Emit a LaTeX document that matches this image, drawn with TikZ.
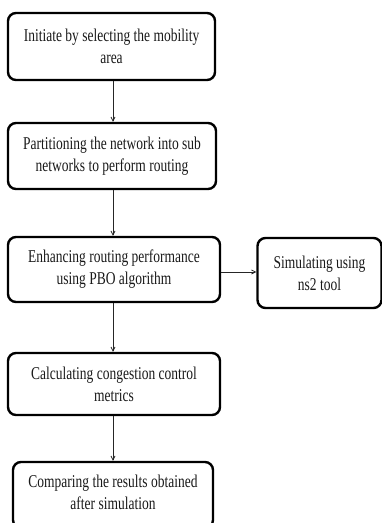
\documentclass[tikz,border=0pt]{standalone}
\usepackage{fontspec}
\setmainfont{Liberation Serif}[FakeStretch=0.75]
\usetikzlibrary{arrows.meta}
\begin{document}
\begin{tikzpicture}[x=1pt,y=-1pt,
  steptext/.style={align=center,font=\fontsize{18pt}{22pt}\selectfont,text=black!90,inner sep=0pt},
  stepbox/.style={steptext,draw=black,line width=2.4pt,rounded corners=8pt},
  arr/.style={draw=black!85,line width=0.8pt,-{Straight Barb[length=4pt,width=4pt]}}]
\useasboundingbox (0,0) rectangle (382,523);
\clip (0,0) rectangle (382,523);
\node[stepbox,minimum width=207pt,minimum height=67pt] (b1) at (111.5,46.5) {Initiate by selecting the mobility\\area};
\node[stepbox,minimum width=208pt,minimum height=66pt] (b2) at (112,156) {Partitioning the network into sub\\networks to perform routing};
\node[stepbox,minimum width=212pt,minimum height=65pt] (b3) at (114,269.5) {Enhancing routing performance\\using PBO algorithm};
\node[stepbox,minimum width=124pt,minimum height=70pt] (sim) at (319.5,273) {Simulating using\\ns2 tool};
\node[stepbox,minimum width=212pt,minimum height=62pt] (b4) at (114,384) {Calculating congestion control\\metrics};
\node[stepbox,minimum width=200pt,minimum height=66pt] (b5) at (113,495) {};
\node[steptext] (b5t) at (113,492.5) {Comparing the results obtained\\after simulation};
\coordinate (ax) at (113,0);
\coordinate (ay) at (0,272);
\draw[arr] (b1.south -| ax) -- (b2.north -| ax);
\draw[arr] (b2.south -| ax) -- (b3.north -| ax);
\draw[arr] (b3.south -| ax) -- (b4.north -| ax);
\draw[arr] (b4.south -| ax) -- (b5.north -| ax);
\draw[arr] (b3.east |- ay) -- (sim.west |- ay);
\end{tikzpicture}
\end{document}
